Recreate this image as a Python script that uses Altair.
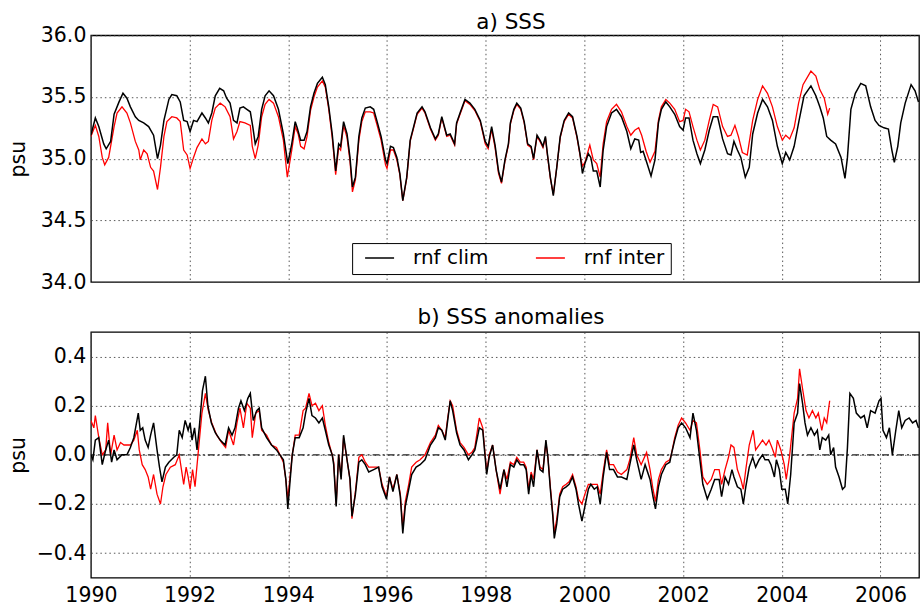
import altair as alt
import pandas as pd

# ---------------- data ----------------
# a) SSS, run with climatological runoff (black)
sss_clim_t = [1990.00,1990.09,1990.16,1990.26,1990.31,1990.40,1990.47,1990.57,1990.65,1990.73,1990.80,1990.90,1990.97,
    1991.07,1991.17,1991.27,1991.35,1991.41,1991.48,1991.58,1991.64,1991.74,1991.81,1991.88,1991.95,
    1992.01,1992.08,1992.15,1992.25,1992.32,1992.38,1992.45,1992.52,1992.61,1992.69,1992.75,1992.82,1992.89,1992.96,
    1993.02,1993.09,1993.16,1993.23,1993.28,1993.33,1993.39,1993.46,1993.53,1993.61,1993.70,1993.80,1993.90,1993.99,
    1994.07,1994.14,1994.18,1994.25,1994.32,1994.38,1994.45,1994.52,1994.59,1994.69,1994.75,1994.82,1994.89,1994.96,
    1995.02,1995.06,1995.12,1995.19,1995.25,1995.30,1995.36,1995.43,1995.49,1995.56,1995.66,1995.73,1995.80,1995.88,1995.97,
    1996.00,1996.07,1996.13,1996.20,1996.26,1996.32,1996.40,1996.47,1996.54,1996.61,1996.71,1996.77,1996.88,1996.98,
    1997.04,1997.11,1997.21,1997.28,1997.37,1997.41,1997.48,1997.58,1997.68,1997.78,1997.89,1997.99,
    1998.05,1998.12,1998.19,1998.26,1998.32,1998.39,1998.46,1998.50,1998.57,1998.63,1998.71,1998.78,1998.85,1998.92,1998.97,
    1999.04,1999.10,1999.16,1999.21,1999.25,1999.31,1999.37,1999.44,1999.51,1999.59,1999.68,1999.76,1999.85,1999.91,1999.96,
    2000.01,2000.08,2000.13,2000.18,2000.25,2000.32,2000.38,2000.45,2000.55,2000.65,2000.75,2000.86,2000.94,
    2001.02,2001.10,2001.14,2001.19,2001.27,2001.35,2001.43,2001.50,2001.56,2001.65,2001.73,2001.83,2001.93,
    2002.00,2002.05,2002.12,2002.20,2002.28,2002.35,2002.44,2002.53,2002.61,2002.70,2002.80,2002.90,2002.97,
    2003.03,2003.10,2003.17,2003.26,2003.34,2003.41,2003.51,2003.61,2003.71,2003.81,2003.91,
    2004.01,2004.08,2004.16,2004.25,2004.35,2004.45,2004.59,2004.69,2004.77,2004.84,2004.91,2004.99,
    2005.09,2005.20,2005.28,2005.33,2005.40,2005.49,2005.60,2005.70,2005.80,2005.89,2005.97,
    2006.07,2006.16,2006.23,2006.28,2006.35,2006.41,2006.50,2006.62,2006.70,2006.77]
sss_clim = [35.19,35.33,35.26,35.12,35.08,35.14,35.36,35.46,35.53,35.49,35.42,35.34,35.31,
    35.29,35.26,35.19,35.00,35.11,35.31,35.48,35.52,35.51,35.46,35.31,35.30,
    35.22,35.31,35.30,35.37,35.33,35.29,35.37,35.51,35.57,35.55,35.49,35.45,35.31,35.29,
    35.41,35.42,35.40,35.38,35.26,35.12,35.18,35.40,35.51,35.55,35.51,35.40,35.20,34.96,
    35.12,35.30,35.25,35.15,35.15,35.22,35.42,35.53,35.61,35.66,35.60,35.42,35.20,34.90,
    35.12,35.10,35.30,35.20,35.01,34.77,34.85,35.18,35.33,35.41,35.42,35.40,35.30,35.18,34.99,
    34.96,35.10,35.09,35.01,34.88,34.66,34.85,35.15,35.26,35.37,35.42,35.38,35.25,35.16,
    35.20,35.34,35.19,35.20,35.12,35.29,35.37,35.48,35.45,35.40,35.31,35.14,
    35.10,35.26,35.11,34.90,34.81,34.99,35.12,35.29,35.40,35.45,35.41,35.30,35.12,35.10,35.00,
    35.19,35.15,35.10,35.18,35.04,34.85,34.70,34.93,35.18,35.31,35.37,35.34,35.18,35.04,34.88,
    34.96,35.04,35.01,34.90,34.90,34.77,35.07,35.26,35.37,35.40,35.34,35.22,35.08,
    35.16,35.15,35.05,35.06,34.96,34.86,34.99,35.29,35.40,35.46,35.42,35.36,35.26,
    35.23,35.33,35.33,35.15,35.04,34.96,35.07,35.23,35.34,35.34,35.16,35.04,35.03,
    35.14,35.07,35.01,34.85,34.93,35.20,35.37,35.48,35.42,35.31,35.10,
    34.96,35.05,34.99,35.10,35.31,35.51,35.59,35.51,35.42,35.33,35.18,35.15,
    35.12,35.01,34.84,35.01,35.40,35.53,35.61,35.59,35.42,35.31,35.27,
    35.25,35.24,35.07,34.97,35.10,35.29,35.45,35.60,35.55,35.46]

# a) SSS, run with interannual runoff (red)
sss_inter_t = [1990.00,1990.09,1990.16,1990.23,1990.28,1990.36,1990.47,1990.53,1990.63,1990.73,1990.80,1990.90,1990.97,
    1991.00,1991.07,1991.14,1991.21,1991.27,1991.35,1991.41,1991.48,1991.54,1991.64,1991.74,1991.81,1991.88,1991.95,
    1992.01,1992.08,1992.15,1992.25,1992.32,1992.38,1992.45,1992.52,1992.62,1992.72,1992.82,1992.89,1992.96,
    1993.02,1993.12,1993.23,1993.27,1993.33,1993.39,1993.46,1993.53,1993.61,1993.70,1993.80,1993.90,1993.98,
    1994.07,1994.14,1994.20,1994.25,1994.32,1994.38,1994.45,1994.52,1994.59,1994.69,1994.75,1994.82,1994.89,1994.96,
    1995.02,1995.06,1995.12,1995.19,1995.25,1995.30,1995.36,1995.43,1995.49,1995.56,1995.66,1995.73,1995.80,1995.88,1995.97,
    1996.00,1996.07,1996.13,1996.20,1996.26,1996.32,1996.40,1996.47,1996.54,1996.61,1996.71,1996.77,1996.88,1996.98,
    1997.04,1997.11,1997.21,1997.28,1997.37,1997.41,1997.48,1997.58,1997.68,1997.78,1997.89,1997.99,
    1998.05,1998.12,1998.19,1998.26,1998.32,1998.39,1998.46,1998.50,1998.57,1998.63,1998.71,1998.78,1998.85,1998.92,1998.97,
    1999.04,1999.10,1999.16,1999.21,1999.25,1999.31,1999.37,1999.44,1999.51,1999.59,1999.68,1999.76,1999.85,1999.91,1999.96,
    2000.01,2000.11,2000.18,2000.25,2000.32,2000.38,2000.45,2000.55,2000.65,2000.75,2000.86,2000.94,
    2001.02,2001.10,2001.16,2001.25,2001.33,2001.43,2001.50,2001.56,2001.65,2001.73,2001.83,2001.93,
    2002.00,2002.05,2002.12,2002.20,2002.28,2002.35,2002.44,2002.53,2002.61,2002.70,2002.80,2002.90,2002.97,
    2003.05,2003.12,2003.20,2003.30,2003.41,2003.51,2003.61,2003.71,2003.81,2003.91,
    2004.01,2004.08,2004.16,2004.25,2004.34,2004.43,2004.59,2004.69,2004.77,2004.86,2004.93,2004.97]
sss_inter = [35.18,35.27,35.18,35.01,34.95,35.01,35.26,35.37,35.42,35.37,35.29,35.14,35.07,
    34.99,35.07,35.04,34.93,34.90,34.75,34.93,35.18,35.30,35.34,35.33,35.30,35.07,35.03,
    34.92,35.01,35.09,35.16,35.12,35.14,35.31,35.41,35.45,35.42,35.34,35.16,35.22,
    35.30,35.29,35.27,35.10,35.00,35.11,35.34,35.44,35.48,35.45,35.34,35.15,34.85,
    35.07,35.26,35.20,35.10,35.08,35.18,35.39,35.50,35.58,35.63,35.58,35.40,35.17,34.87,
    35.09,35.07,35.27,35.17,34.98,34.73,34.83,35.15,35.30,35.38,35.38,35.37,35.27,35.15,34.95,
    34.92,35.07,35.07,34.99,34.87,34.66,34.84,35.14,35.25,35.36,35.41,35.37,35.24,35.15,
    35.19,35.33,35.18,35.19,35.11,35.28,35.36,35.47,35.44,35.39,35.30,35.12,
    35.08,35.24,35.09,34.88,34.80,34.98,35.11,35.28,35.39,35.44,35.40,35.29,35.11,35.09,34.99,
    35.18,35.14,35.09,35.17,35.03,34.84,34.71,34.93,35.17,35.30,35.36,35.33,35.17,35.03,34.94,
    34.97,35.11,34.99,34.96,34.85,35.12,35.30,35.40,35.44,35.38,35.26,35.19,
    35.23,35.25,35.19,35.06,34.97,35.06,35.31,35.42,35.48,35.45,35.40,35.30,
    35.31,35.40,35.38,35.26,35.15,35.07,35.15,35.31,35.44,35.42,35.26,35.18,35.19,
    35.27,35.18,35.05,35.03,35.31,35.48,35.59,35.53,35.42,35.26,
    35.15,35.19,35.16,35.25,35.45,35.60,35.71,35.67,35.56,35.49,35.36,35.41]

# b) SSS anomalies, climatological runoff (black)
anom_clim_t = [1990.00,1990.04,1990.09,1990.16,1990.23,1990.30,1990.36,1990.42,1990.47,1990.53,1990.63,1990.73,1990.80,1990.87,1990.96,
    1991.00,1991.05,1991.10,1991.16,1991.21,1991.27,1991.34,1991.39,1991.44,1991.51,1991.58,1991.68,1991.74,1991.79,1991.85,1991.91,1991.97,
    1992.01,1992.05,1992.10,1992.15,1992.20,1992.26,1992.32,1992.37,1992.44,1992.52,1992.62,1992.72,1992.79,1992.86,1992.92,1992.99,
    1993.04,1993.11,1993.18,1993.23,1993.29,1993.36,1993.41,1993.46,1993.56,1993.66,1993.76,1993.83,1993.90,1993.95,1993.99,
    1994.03,1994.08,1994.14,1994.22,1994.30,1994.35,1994.42,1994.48,1994.55,1994.62,1994.69,1994.75,1994.82,1994.89,1994.92,1994.97,
    1995.02,1995.07,1995.12,1995.19,1995.25,1995.29,1995.36,1995.43,1995.49,1995.56,1995.63,1995.73,1995.83,1995.90,1995.99,
    1996.05,1996.12,1996.20,1996.27,1996.32,1996.37,1996.44,1996.50,1996.59,1996.67,1996.77,1996.88,1996.98,
    1997.04,1997.11,1997.18,1997.23,1997.28,1997.33,1997.41,1997.48,1997.56,1997.65,1997.72,1997.78,1997.87,1997.94,
    1998.02,1998.07,1998.14,1998.21,1998.29,1998.37,1998.43,1998.50,1998.57,1998.63,1998.70,1998.77,1998.82,1998.87,1998.92,1998.97,
    1999.04,1999.10,1999.16,1999.22,1999.26,1999.31,1999.36,1999.39,1999.44,1999.50,1999.56,1999.63,1999.69,1999.76,1999.83,1999.88,1999.95,
    2000.01,2000.08,2000.13,2000.20,2000.26,2000.32,2000.38,2000.45,2000.51,2000.59,2000.67,2000.75,2000.86,2000.92,
    2001.00,2001.06,2001.15,2001.23,2001.33,2001.39,2001.44,2001.50,2001.56,2001.65,2001.73,2001.76,2001.83,2001.90,2001.97,
    2002.05,2002.14,2002.20,2002.27,2002.34,2002.40,2002.49,2002.57,2002.64,2002.73,2002.78,2002.85,2002.92,2002.99,
    2003.03,2003.10,2003.17,2003.22,2003.27,2003.34,2003.41,2003.47,2003.54,2003.61,2003.66,2003.73,2003.78,2003.85,2003.89,2003.95,
    2004.00,2004.07,2004.12,2004.18,2004.25,2004.32,2004.36,2004.42,2004.47,2004.52,2004.59,2004.66,2004.72,2004.77,2004.82,2004.89,2004.95,2004.99,
    2005.05,2005.09,2005.16,2005.23,2005.28,2005.33,2005.38,2005.45,2005.51,2005.60,2005.67,2005.73,2005.80,2005.89,2005.97,
    2006.01,2006.05,2006.12,2006.18,2006.24,2006.31,2006.37,2006.43,2006.50,2006.58,2006.65,2006.72,2006.77]
anom_clim = [0.00,-0.02,0.06,0.07,-0.04,0.02,0.06,-0.03,0.02,-0.02,0.00,0.00,0.03,0.07,0.17,
    0.10,0.11,0.06,0.03,0.08,0.13,0.02,-0.05,-0.11,-0.05,-0.03,-0.01,0.00,0.10,0.07,0.14,0.10,
    0.13,0.06,0.11,0.02,0.12,0.26,0.32,0.20,0.13,0.09,0.06,0.04,0.11,0.08,0.11,0.19,
    0.22,0.18,0.23,0.25,0.14,0.18,0.19,0.11,0.07,0.04,0.02,0.00,-0.02,-0.10,-0.22,
    -0.12,0.00,0.07,0.07,0.11,0.17,0.23,0.16,0.15,0.13,0.15,0.10,0.04,0.00,-0.04,-0.21,
    0.00,-0.10,0.08,-0.02,-0.10,-0.25,-0.16,-0.03,-0.02,-0.04,-0.07,-0.06,-0.05,-0.13,-0.18,
    -0.09,-0.15,-0.08,-0.17,-0.32,-0.21,-0.14,-0.08,-0.05,-0.04,-0.02,0.04,0.07,
    0.11,0.10,0.06,0.14,0.22,0.18,0.09,0.04,0.02,-0.02,0.00,0.02,0.11,0.10,
    -0.08,-0.01,0.04,-0.06,-0.14,-0.06,-0.13,-0.04,-0.05,-0.02,-0.04,-0.04,-0.06,-0.16,-0.08,-0.13,
    0.02,-0.06,-0.07,0.06,-0.01,-0.14,-0.25,-0.34,-0.28,-0.17,-0.14,-0.13,-0.12,-0.09,-0.14,-0.20,-0.27,
    -0.21,-0.14,-0.12,-0.14,-0.13,-0.20,-0.09,0.01,-0.06,-0.06,-0.09,-0.09,-0.10,-0.04,
    0.04,-0.02,-0.10,-0.04,-0.10,-0.17,-0.22,-0.13,-0.08,-0.04,-0.03,0.00,0.06,0.11,0.13,
    0.11,0.07,0.17,0.10,-0.02,-0.12,-0.18,-0.14,-0.10,-0.10,-0.17,-0.09,-0.12,-0.06,
    -0.09,-0.13,-0.14,-0.20,-0.13,-0.05,-0.01,-0.05,-0.02,0.00,-0.02,-0.02,-0.04,-0.09,-0.02,-0.06,
    -0.14,-0.14,-0.20,-0.08,0.13,0.17,0.29,0.21,0.13,0.08,0.11,0.08,0.10,0.02,0.07,0.06,0.08,0.00,
    0.03,-0.05,-0.09,-0.14,-0.13,0.03,0.25,0.23,0.17,0.15,0.16,0.11,0.18,0.17,0.22,
    0.23,0.10,0.07,0.11,0.00,0.10,0.18,0.11,0.14,0.15,0.13,0.14,0.11]

# b) SSS anomalies, interannual runoff (red)
anom_inter_t = [1990.00,1990.06,1990.09,1990.16,1990.23,1990.30,1990.34,1990.40,1990.47,1990.53,1990.60,1990.67,1990.73,1990.80,1990.87,1990.94,1990.98,
    1991.04,1991.10,1991.16,1991.21,1991.27,1991.34,1991.41,1991.46,1991.52,1991.61,1991.71,1991.79,1991.88,1991.93,1991.97,
    1992.01,1992.06,1992.11,1992.17,1992.25,1992.32,1992.38,1992.45,1992.55,1992.65,1992.73,1992.79,1992.89,1992.96,
    1993.02,1993.09,1993.16,1993.23,1993.27,1993.34,1993.41,1993.46,1993.56,1993.66,1993.76,1993.83,1993.90,1993.95,1993.99,
    1994.03,1994.08,1994.14,1994.22,1994.30,1994.35,1994.42,1994.48,1994.55,1994.62,1994.69,1994.75,1994.82,1994.89,1994.92,1994.97,
    1995.02,1995.07,1995.12,1995.19,1995.25,1995.29,1995.36,1995.43,1995.49,1995.56,1995.63,1995.73,1995.83,1995.90,1995.99,
    1996.05,1996.12,1996.20,1996.27,1996.32,1996.37,1996.44,1996.50,1996.59,1996.67,1996.77,1996.88,1996.98,
    1997.04,1997.11,1997.18,1997.23,1997.28,1997.33,1997.41,1997.48,1997.56,1997.65,1997.72,1997.78,1997.87,1997.94,
    1998.02,1998.07,1998.14,1998.21,1998.29,1998.37,1998.43,1998.50,1998.57,1998.63,1998.70,1998.77,1998.82,1998.87,1998.92,1998.97,
    1999.04,1999.10,1999.16,1999.22,1999.26,1999.31,1999.36,1999.39,1999.44,1999.50,1999.56,1999.63,1999.69,1999.76,1999.83,1999.88,1999.95,
    2000.01,2000.08,2000.13,2000.20,2000.26,2000.32,2000.38,2000.45,2000.51,2000.59,2000.67,2000.75,2000.86,2000.92,
    2001.00,2001.06,2001.15,2001.26,2001.33,2001.39,2001.44,2001.50,2001.56,2001.65,2001.73,2001.76,2001.83,2001.90,2001.97,
    2002.05,2002.14,2002.20,2002.27,2002.34,2002.40,2002.49,2002.57,2002.64,2002.73,2002.78,2002.85,2002.92,2002.97,
    2003.03,2003.10,2003.17,2003.22,2003.27,2003.34,2003.42,2003.47,2003.54,2003.61,2003.68,2003.74,2003.80,2003.87,2003.91,2003.98,
    2004.05,2004.09,2004.16,2004.25,2004.32,2004.36,2004.42,2004.49,2004.55,2004.62,2004.69,2004.74,2004.81,2004.86,2004.91,2004.97]
anom_inter = [0.14,0.11,0.16,0.07,0.00,0.02,0.13,0.00,0.08,0.02,0.05,0.04,0.04,0.04,0.06,0.10,0.02,
    -0.04,-0.06,-0.09,-0.14,-0.08,-0.16,-0.20,-0.13,-0.08,-0.05,-0.04,0.00,-0.12,-0.05,-0.09,
    -0.14,-0.06,-0.13,0.00,0.17,0.25,0.18,0.13,0.08,0.05,0.03,0.10,0.04,0.13,
    0.19,0.11,0.21,0.19,0.07,0.17,0.18,0.10,0.08,0.04,0.03,0.00,-0.03,-0.10,-0.18,
    -0.10,0.00,0.08,0.08,0.18,0.19,0.25,0.20,0.21,0.18,0.20,0.12,0.05,0.00,-0.03,-0.20,
    0.00,-0.09,0.07,-0.02,-0.10,-0.26,-0.15,-0.01,0.00,-0.03,-0.05,-0.05,-0.05,-0.12,-0.17,
    -0.09,-0.14,-0.08,-0.16,-0.30,-0.19,-0.12,-0.05,-0.03,-0.02,0.00,0.05,0.08,
    0.12,0.10,0.07,0.15,0.22,0.20,0.10,0.05,0.03,0.00,0.01,0.03,0.15,0.11,
    -0.07,0.00,0.04,-0.06,-0.16,-0.06,-0.10,-0.03,-0.04,-0.01,-0.03,-0.03,-0.05,-0.14,-0.07,-0.10,
    0.02,-0.05,-0.06,0.05,-0.01,-0.13,-0.24,-0.32,-0.26,-0.16,-0.13,-0.12,-0.11,-0.08,-0.13,-0.18,-0.20,
    -0.16,-0.12,-0.12,-0.12,-0.12,-0.16,-0.07,0.02,-0.04,-0.04,-0.07,-0.08,-0.06,-0.02,
    0.07,0.00,-0.04,0.01,-0.06,-0.14,-0.19,-0.10,-0.06,-0.03,-0.02,0.00,0.07,0.12,0.15,
    0.13,0.10,0.14,0.13,0.02,-0.09,-0.12,-0.10,-0.06,-0.06,-0.12,-0.06,-0.01,0.04,
    0.03,-0.06,-0.10,-0.14,-0.06,0.04,0.10,0.02,0.04,0.06,0.04,0.06,0.03,-0.01,0.06,0.02,
    -0.04,-0.10,0.00,0.17,0.23,0.35,0.27,0.18,0.15,0.18,0.15,0.17,0.10,0.15,0.13,0.22]

series_names = ["rnf clim", "rnf inter"]
series_colors = ["#000000", "#ff0000"]
year_ticks = list(range(1990, 2007, 2))
sss_ticks = [34.0, 34.5, 35.0, 35.5, 36.0]
anom_ticks = [-0.4, -0.2, 0.0, 0.2, 0.4]

# ---------------- tables ----------------
def frame(t, v, name):
    return pd.DataFrame({"year": t, "value": v, "series": name})

top_black = frame(sss_clim_t, sss_clim, series_names[0])
top_red = frame(sss_inter_t, sss_inter, series_names[1])
bot_black = frame(anom_clim_t, anom_clim, series_names[0])
bot_red = frame(anom_inter_t, anom_inter, series_names[1])

XDOM = [1990, 2006.78]
W = 829
FONT = "DejaVu Sans"

color_scale = alt.Scale(domain=series_names, range=series_colors)

def xenc(labels):
    return alt.X("year:Q", scale=alt.Scale(domain=XDOM, nice=False, zero=False),
                 axis=alt.Axis(values=year_ticks, format="d", labels=labels, title=None,
                               grid=True, ticks=False, domain=False, labelPadding=8,
                               labelFlush=False, labelOverlap=False))

legend = alt.Legend(orient="none", legendX=261.5, legendY=208, direction="horizontal", title=None,
                    symbolType="stroke", symbolSize=841, symbolStrokeWidth=1.5, symbolOffset=6,
                    labelFont=FONT, labelFontSize=20, labelColor="black", labelOffset=18,
                    columnPadding=40, padding=6, clipHeight=18, strokeColor="black",
                    fillColor="white", cornerRadius=0)

def yaxis(ticks):
    return alt.Axis(values=ticks, format=".1f", title="psu", grid=True, ticks=False,
                    domain=False, labelPadding=5, titleX=-62.5, titleFont=FONT,
                    titleFontSize=20.5, titleFontWeight="normal", titleColor="black")

ytop = alt.Y("value:Q", scale=alt.Scale(domain=[34, 36], nice=False, zero=False), axis=yaxis(sss_ticks))
ybot = alt.Y("value:Q", scale=alt.Scale(domain=[-0.5, 0.5], nice=False, zero=False), axis=yaxis(anom_ticks))

def title(txt, dy):
    return alt.TitleParams(txt, anchor="middle", dx=6, dy=dy, offset=7, baseline="alphabetic",
                           frame="group", font=FONT, fontSize=21.5, fontWeight="normal",
                           color="black")

top = alt.layer(
    alt.Chart(top_red).mark_line(strokeWidth=1.3, clip=True).encode(
        x=xenc(False), y=ytop,
        color=alt.Color("series:N", scale=color_scale, legend=legend), order=alt.Order("year:Q")),
    alt.Chart(top_black).mark_line(strokeWidth=1.5, clip=True).encode(
        x=xenc(False), y=ytop,
        color=alt.Color("series:N", scale=color_scale, legend=legend), order=alt.Order("year:Q")),
).properties(width=W, height=247, title=title("a) SSS", 32))

zero_rule = alt.Chart(pd.DataFrame({"z": [0.0]})).mark_rule(
    color="#222222", strokeWidth=1.3, strokeDash=[7, 3, 2, 3]).encode(y=alt.Y("z:Q"))

bottom = alt.layer(
    zero_rule,
    alt.Chart(bot_red).mark_line(strokeWidth=1.3, clip=True).encode(
        x=xenc(True), y=ybot,
        color=alt.Color("series:N", scale=color_scale, legend=None), order=alt.Order("year:Q")),
    alt.Chart(bot_black).mark_line(strokeWidth=1.5, clip=True).encode(
        x=xenc(True), y=ybot,
        color=alt.Color("series:N", scale=color_scale, legend=None), order=alt.Order("year:Q")),
).properties(width=W, height=246, title=title("b) SSS anomalies", 21))

chart = alt.vconcat(top, bottom, spacing=50, bounds="flush").properties(
    padding={"left": 7, "top": 10, "right": 0, "bottom": 0},
    background="white",
).configure_view(
    stroke="black", strokeWidth=1.3
).configure_axis(
    labelFont=FONT, labelFontSize=20.5, labelColor="black",
    gridColor="#444444", gridDash=[1.5, 3], gridWidth=1, gridOpacity=0.9,
).configure_legend(
    labelFont=FONT
)

chart.save("out.html", embed_options={"renderer": "svg", "actions": False})
